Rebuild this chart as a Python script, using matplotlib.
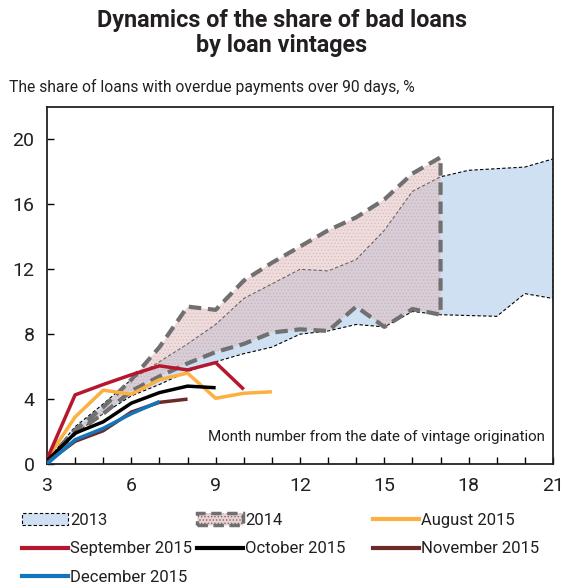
import numpy as np
import matplotlib.pyplot as plt
from matplotlib.patches import Patch
from matplotlib.lines import Line2D

plt.rcParams['font.family'] = ['Roboto', 'DejaVu Sans']
plt.rcParams['hatch.linewidth'] = 0.6

# month number since origination
months_2013 = list(range(3, 22))
upper_2013 = [0.2, 2.3, 3.7, 5.2, 6.3, 7.4, 8.6, 10.2, 11.1, 12.0, 11.9, 12.6, 14.4, 16.8, 17.7, 18.1, 18.2, 18.3, 18.8]
lower_2013 = [0.1, 1.9, 3.1, 4.2, 4.9, 5.7, 6.3, 6.8, 7.2, 8.0, 8.2, 8.6, 8.45, 9.4, 9.2, 9.15, 9.1, 10.5, 10.2]

months_2014 = list(range(3, 18))
upper_2014 = [0.2, 2.1, 3.5, 5.2, 7.2, 9.7, 9.5, 11.3, 12.4, 13.4, 14.4, 15.2, 16.3, 17.9, 18.9]
lower_2014 = [0.1, 1.9, 3.1, 4.5, 5.4, 6.2, 6.9, 7.4, 8.1, 8.3, 8.2, 9.7, 8.45, 9.55, 9.2]

aug_2015 = [0.3, 2.9, 4.55, 4.3, 5.2, 5.6, 4.05, 4.36, 4.45]
sep_2015 = [0.3, 4.26, 4.9, 5.5, 6.05, 5.8, 6.25, 4.6]
oct_2015 = [0.2, 1.9, 2.6, 3.75, 4.4, 4.8, 4.7]
nov_2015 = [0.1, 1.4, 2.05, 3.2, 3.8, 4.0]
dec_2015 = [0.0, 1.5, 2.2, 3.1, 3.85]

x_ticks = [3, 6, 9, 12, 15, 18, 21]
y_ticks = [0, 4, 8, 12, 16, 20]

txt = '#231f20'
blue_fill = '#cfe0f2'
pink_fill = (0.88, 0.74, 0.74, 0.5)
gray_edge = '#707070'

fig = plt.figure(figsize=(5.64, 5.85), dpi=100)
ax = fig.add_axes([0.0833, 0.2068, 0.8972, 0.6103])
renderer = fig.canvas.get_renderer()


def band(months, upper, lower):
    xs = list(months) + list(months)[::-1]
    ys = list(upper) + list(lower)[::-1]
    return xs + [xs[0]], ys + [ys[0]]


def fit(t, width_px):
    # scale font so the text spans about the same width as in the original
    w = t.get_window_extent(renderer).width
    t.set_fontsize(t.get_fontsize() * width_px / w)


# 2013 band
bx, by = band(months_2013, upper_2013, lower_2013)
ax.fill(bx, by, facecolor=blue_fill, edgecolor='none', zorder=1)
ax.plot(bx, by, color='black', lw=0.8, ls=(0, (3, 2)), zorder=2)

# 2014 band
px, py = band(months_2014, upper_2014, lower_2014)
ax.fill(px, py, facecolor=pink_fill, edgecolor='none', zorder=3)
ax.fill(px, py, facecolor='none', edgecolor=(0.75, 0.55, 0.55, 0.35), hatch='.....', lw=0, zorder=3)
ax.plot(px, py, color=gray_edge, lw=3, ls=(0, (3, 1.6)), zorder=4)

lines = [
    (aug_2015, '#fbb040', 'August 2015'),
    (sep_2015, '#b5172e', 'September 2015'),
    (oct_2015, '#000000', 'October 2015'),
    (nov_2015, '#6d2b27', 'November 2015'),
    (dec_2015, '#1375bc', 'December 2015'),
]
handles = {}
for vals, col, name in lines:
    m = list(range(3, 3 + len(vals)))
    ax.plot(m, vals, color=col, lw=2.5, zorder=5, solid_capstyle='butt')
    handles[name] = Line2D([], [], color=col, lw=3)

handles['2013'] = Patch(facecolor=blue_fill, edgecolor='black', lw=0.8, ls=(0, (3, 2)))
handles['2014'] = Patch(facecolor=(0.93, 0.82, 0.82), edgecolor=gray_edge, lw=2.5,
                        ls=(0, (3, 1.6)), hatch='.....')

ax.set_xlim(3, 21)
ax.set_ylim(0, 22)
ax.set_xticks(x_ticks)
ax.set_xticks(range(3, 22), minor=True)
ax.set_yticks(y_ticks)
ax.tick_params(axis='both', which='both', direction='in', length=5, width=1, colors='black',
               labelcolor=txt, labelsize=14)
ax.tick_params(axis='x', pad=9)
ax.tick_params(axis='y', pad=9)
for s in ax.spines.values():
    s.set_linewidth(1.3)
    s.set_color('#222222')

t = ax.text(0.983, 0.076, 'Month number from the date of vintage origination', transform=ax.transAxes,
            ha='right', va='center', fontsize=13, color=txt)
fit(t, 340)

t = fig.text(0.5, 0.985, 'Dynamics of the share of bad loans\nby loan vintages', ha='center', va='top',
             fontsize=18, fontweight='bold', color=txt, linespacing=1.12)
fit(t, 370)
t = fig.text(0.016, 0.851, 'The share of loans with overdue payments over 90 days, %', ha='left',
             va='center', fontsize=13, color=txt)
fit(t, 405)

# legend laid out in three columns like the original
columns = [
    (22, ['2013', 'September 2015', 'December 2015']),
    (197, ['2014', 'October 2015']),
    (373, ['August 2015', 'November 2015']),
]
for x0, names in columns:
    fig.legend([handles[k] for k in names], names, loc='upper left',
               bbox_to_anchor=(x0 / 564, 1 - 513 / 585), frameon=False, fontsize=12,
               handlelength=2.75, handletextpad=0.12, labelspacing=0.8, borderpad=0,
               borderaxespad=0, labelcolor=txt)

fig.savefig('out.png', dpi=100)
